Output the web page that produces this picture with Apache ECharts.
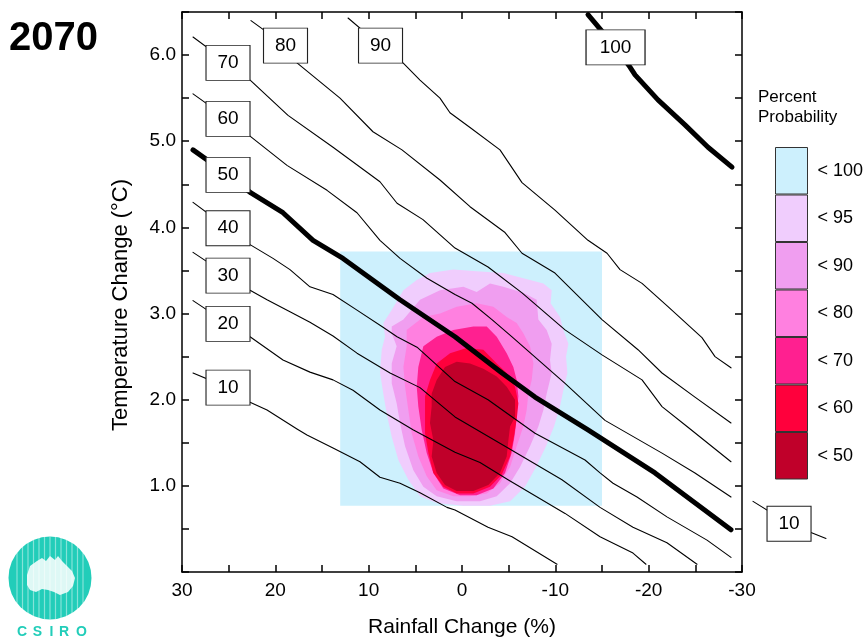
<!DOCTYPE html>
<html>
<head>
<meta charset="utf-8">
<script src="https://cdn.jsdelivr.net/npm/echarts@6/dist/echarts.min.js"></script>
<style>html,body{margin:0;padding:0;background:#fff}#c{width:867px;height:641px}</style>
</head>
<body>
<div id="c"></div>
<script>
// ---------- data (x = rainfall change %, y = temperature change °C) ----------
const probLabels = ['< 100', '< 95', '< 90', '< 80', '< 70', '< 60', '< 50'];
const probColors = ['#cdf0fd', '#f0cdfd', '#f09ef0', '#ff80e0', '#ff2090', '#ff003c', '#c0002a'];

const rectX = [13.05, -15];
const rectY = [0.77, 3.72];

const prob95 = [[6.28,3.27],[4.85,3.39],[3.43,3.47],[0.93,3.51],[-1.57,3.49],[-4.43,3.47],[-6.57,3.41],[-8.72,3.35],[-9.61,3.27],[-9.5,3.12],[-10.5,2.96],[-10.86,2.81],[-11.4,2.65],[-11.15,2.5],[-11.29,2.31],[-10.86,2.11],[-10.5,1.92],[-9.86,1.69],[-9.0,1.46],[-7.93,1.22],[-6.75,0.99],[-5.15,0.82],[-3.0,0.77],[-0.15,0.77],[2.71,0.8],[4.5,0.88],[5.75,1.07],[6.82,1.3],[7.53,1.57],[8.07,1.84],[8.43,2.07],[8.78,2.31],[8.6,2.58],[8.25,2.73],[8.43,2.89],[7.53,3.04]];
const prob90 = [[7.53,2.85],[6.28,2.93],[4.5,3.16],[2.35,3.27],[-0.15,3.31],[-1.57,3.25],[-3.0,3.35],[-4.43,3.31],[-6.57,3.24],[-8.0,3.16],[-8.18,2.93],[-9.07,2.81],[-9.61,2.65],[-9.43,2.46],[-9.61,2.31],[-9.07,2.07],[-8.72,1.88],[-8.18,1.69],[-7.29,1.46],[-6.22,1.22],[-5.15,1.03],[-3.72,0.88],[-1.93,0.82],[0.57,0.82],[2.71,0.88],[4.14,0.99],[5.21,1.18],[6.1,1.46],[6.64,1.73],[7.0,1.96],[7.53,2.19],[7.53,2.42],[7.0,2.62],[7.53,2.77]];
const prob80 = [[5.93,2.81],[4.14,2.96],[2.35,3.0],[0.57,3.08],[-1.57,3.12],[-3.36,3.08],[-4.79,2.96],[-5.86,2.89],[-6.57,2.77],[-7.29,2.62],[-7.65,2.42],[-7.47,2.23],[-7.11,2.07],[-6.93,1.88],[-6.57,1.69],[-5.86,1.46],[-5.15,1.22],[-4.07,1.03],[-2.65,0.91],[-0.86,0.88],[0.93,0.88],[2.71,0.95],[3.78,1.11],[4.68,1.34],[5.39,1.61],[5.75,1.88],[6.1,2.15],[6.28,2.38],[5.93,2.62]];
const prob70 = [[4.14,2.62],[2.71,2.73],[0.93,2.81],[-1.22,2.85],[-2.65,2.85],[-3.72,2.73],[-4.79,2.54],[-5.5,2.38],[-5.86,2.23],[-6.04,2.04],[-5.86,1.84],[-5.68,1.61],[-5.32,1.38],[-4.61,1.15],[-3.36,0.97],[-1.57,0.89],[0.21,0.89],[2.0,0.97],[3.07,1.15],[3.78,1.38],[4.32,1.65],[4.68,1.92],[4.85,2.15],[4.68,2.38]];
const prob60 = [[2.71,2.42],[1.28,2.54],[-0.5,2.6],[-2.29,2.58],[-3.72,2.42],[-4.79,2.31],[-5.68,2.15],[-6.04,1.96],[-5.86,1.77],[-5.5,1.53],[-5.15,1.34],[-4.25,1.13],[-3.0,0.99],[-1.22,0.91],[0.57,0.91],[2.0,0.99],[3.07,1.15],[3.6,1.38],[3.96,1.61],[3.96,1.84],[3.96,2.04],[3.43,2.23]];
const prob50 = [[1.82,2.38],[0.57,2.44],[-0.86,2.42],[-2.29,2.36],[-3.72,2.27],[-4.79,2.15],[-5.68,2.0],[-5.68,1.8],[-5.15,1.69],[-4.97,1.53],[-4.79,1.34],[-4.07,1.15],[-2.82,1.01],[-1.22,0.94],[0.57,0.94],[1.82,1.01],[2.71,1.15],[3.25,1.34],[3.07,1.53],[3.43,1.73],[3.25,1.92],[3.25,2.07],[2.71,2.23]];

// contour lines: first point = leader start, second point = label box centre
const contourNames = ['10','20','30','40','50','60','70','80','90','100','10'];
const line10 = [[28.82,2.31],[25.07,2.14],[22.71,1.97],[20.89,1.88],[17.68,1.66],[16.61,1.59],[13.82,1.44],[10.93,1.28],[8.79,1.10],[6.64,1.03],[4.5,0.92],[1.61,0.75],[0.75,0.72],[-2.79,0.52],[-5.36,0.41],[-10.18,0.09]];
const line20 = [[28.82,3.15],[25.07,2.88],[22.71,2.73],[19.18,2.46],[16.29,2.32],[13.82,2.23],[11.68,2.11],[8.79,1.88],[5.25,1.65],[0.75,1.39],[-1.93,1.27],[-4.93,1.07],[-11.04,0.68],[-14.79,0.41],[-18.32,0.22],[-19.71,0.09]];
const line30 = [[28.82,3.71],[25.07,3.44],[22.71,3.27],[20.89,3.16],[18.43,3.02],[16.29,2.90],[13.82,2.74],[11.25,2.54],[7.71,2.31],[4.5,2.14],[0.75,1.80],[-4.93,1.44],[-10.71,1.07],[-14.79,0.75],[-18.32,0.52],[-21.96,0.34],[-25.18,0.09]];
const line40 = [[28.82,4.29],[25.07,3.99],[22.71,3.80],[20.25,3.64],[18.43,3.51],[16.29,3.31],[13.82,3.22],[11.25,3.04],[8.46,2.84],[6.96,2.73],[4.82,2.61],[0.75,2.21],[-2.79,2.0],[-7.82,1.61],[-13.18,1.30],[-14.79,1.15],[-16.18,1.03],[-18.75,0.87],[-21.96,0.64],[-26.25,0.37],[-28.82,0.17]];
const line50 = [[28.82,4.90],[25.07,4.61],[22.61,4.40],[19.18,4.17],[15.96,3.85],[12.75,3.64],[6.64,3.16],[0.75,2.73],[-4.29,2.31],[-7.82,2.03],[-13.5,1.65],[-20.68,1.15],[-28.82,0.49]];
const line60 = [[28.82,5.55],[25.07,5.26],[22.61,5.05],[18.75,4.72],[14.46,4.43],[11.25,4.17],[8.79,3.85],[6.64,3.64],[3.75,3.41],[0.75,3.22],[-1.07,3.12],[-3.21,2.93],[-5.36,2.73],[-11.04,2.19],[-15.32,1.76],[-21.43,1.38],[-24.96,1.15],[-28.82,0.87]];
const line70 = [[28.82,6.21],[25.07,5.91],[22.61,5.70],[18.64,5.30],[13.82,4.93],[8.79,4.53],[6.96,4.28],[4.18,4.09],[0.75,3.76],[-2.79,3.54],[-6.43,3.24],[-11.04,2.81],[-15,2.52],[-19.29,2.23],[-21.43,1.92],[-24.21,1.68],[-28.82,1.28]];
const line80 = [[22.61,6.40],[18.91,6.11],[17.68,5.91],[13.07,5.50],[9.54,5.11],[6.43,4.90],[2.36,4.55],[-0.86,4.24],[-4.61,3.94],[-6.43,3.70],[-9.96,3.47],[-15,2.93],[-18.86,2.58],[-21.43,2.31],[-24.96,2.03],[-28.82,1.73]];
const line90 = [[12.21,6.43],[8.73,6.11],[6.32,5.91],[4.5,5.71],[2.36,5.50],[1.29,5.33],[-0.86,5.16],[-4.07,4.90],[-6.43,4.52],[-9.96,4.20],[-13.5,3.85],[-15.54,3.70],[-16.93,3.51],[-19.29,3.35],[-22.07,3.08],[-25.71,2.72],[-27.11,2.50],[-28.82,2.37]];
const line100 = [[-13.5,6.47],[-16.45,6.09],[-18,5.86],[-18.54,5.77],[-21,5.48],[-23.89,5.19],[-26.36,4.93],[-28.93,4.70]];
const line10b = [[-31.18,0.82],[-35.04,0.56],[-39,0.39]];

const xTicks = [30, 20, 10, 0, -10, -20, -30];
const yTicks = [1, 2, 3, 4, 5, 6];

// ---------- chart ----------
const FONT = '"Liberation Sans", Arial, sans-serif';
const chart = echarts.init(document.getElementById('c'), null, {renderer: 'canvas'});

function polySeries(name, pts, color) {
  return {
    type: 'custom', name: name, coordinateSystem: 'cartesian2d', xAxisIndex: 0, yAxisIndex: 0,
    data: pts, encode: {x: 0, y: 1}, silent: true, itemStyle: {color: color},
    renderItem: function (params, api) {
      if (params.dataIndex !== 0) return null;
      return {type: 'polygon', shape: {points: pts.map(p => api.coord(p))}, style: {fill: color}};
    }
  };
}
function contourSeries(label, pts, thick, axisIdx) {
  const w = label.length > 2 ? 59 : 44;
  return {
    type: 'line', name: 'contour ' + label, data: pts, xAxisIndex: axisIdx, yAxisIndex: axisIdx,
    symbol: 'none', smooth: false, clip: false, silent: true, z: 5,
    lineStyle: {color: '#000', width: thick ? 5 : 1.1, cap: 'round', join: 'round'},
    markPoint: {
      symbol: 'rect', symbolSize: [w, 35], silent: true, animation: false, z: 20,
      itemStyle: {color: '#fff', borderColor: '#222', borderWidth: 1},
      label: {show: true, position: 'inside', formatter: '{b}', color: '#000', fontSize: 19, fontFamily: FONT},
      data: [{name: label, coord: pts[1]}]
    }
  };
}

const rectPts = [[rectX[0], rectY[0]], [rectX[1], rectY[0]], [rectX[1], rectY[1]], [rectX[0], rectY[1]]];
const polys = [rectPts, prob95, prob90, prob80, prob70, prob60, prob50];
const lines = [line10, line20, line30, line40, line50, line60, line70, line80, line90, line100, line10b];

const series = [];
polys.forEach((p, i) => series.push(polySeries(probLabels[i], p, probColors[i])));
lines.forEach((l, i) => series.push(contourSeries(contourNames[i], l,
  contourNames[i] === '50' || contourNames[i] === '100', l === line10b ? 2 : 0)));

const axisLine = {onZero: false, lineStyle: {color: '#000', width: 1.5}};
const axisTick = {inside: true, length: 7, lineStyle: {color: '#000', width: 1.5}};

// logo
const logoCx = 50, logoCy = 578, logoR = 41.5;
const logo = [{type: 'circle', shape: {cx: logoCx, cy: logoCy, r: logoR}, style: {fill: '#22cdb9'}, silent: true}];
for (let k = -6; k <= 6; k++) {
  const dx = k * 5.5;
  const h = Math.sqrt(logoR * logoR - dx * dx);
  logo.push({type: 'line', shape: {x1: logoCx + dx, y1: logoCy - h, x2: logoCx + dx, y2: logoCy + h}, style: {stroke: 'rgba(255,255,255,0.45)', lineWidth: 1.2}, silent: true});
}
logo.push({type: 'polygon', shape: {points: [[27,575],[30,566],[37,561],[42,558],[46,561],[50,556],[55,560],[58,556],[62,561],[67,566],[72,571],[75,578],[73,586],[68,592],[60,595],[54,592],[48,590],[42,589],[36,592],[30,590],[27,585]]}, style: {fill: 'rgba(255,255,255,0.85)'}, silent: true});
['C','S','I','R','O'].forEach((ch, i) => {
  logo.push({type: 'text', x: [22, 37.5, 51.5, 64, 81.5][i], y: 632, style: {text: ch, font: 'bold 14px ' + FONT, fill: '#22cdb9', align: 'center', verticalAlign: 'middle'}, silent: true});
});

const hiddenAxis = {show: false, axisLine: {show: false}, axisTick: {show: false}, axisLabel: {show: false}, splitLine: {show: false}};

const option = {
  animation: false,
  backgroundColor: '#fff',
  title: [
    {text: '2070', left: 9, top: 19, padding: 0, textStyle: {fontSize: 40, fontWeight: 'bold', color: '#000', fontFamily: FONT}},
    {text: 'Percent\nProbability', left: 758, top: 87, padding: 0, textStyle: {fontSize: 17, fontWeight: 'normal', color: '#000', lineHeight: 20, fontFamily: FONT}}
  ],
  grid: [
    {left: 182, right: 125, top: 12, bottom: 69, containLabel: false, outerBoundsMode: 'none'},
    // same scale as the main plot, extended to the right for the outside "10" label
    {left: 182, right: 867 - 182 - 560 * 70 / 60, top: 12, bottom: 69, containLabel: false, outerBoundsMode: 'none'}
  ],
  legend: {
    orient: 'vertical', left: 775, top: 147, padding: 0, itemWidth: 32, itemHeight: 46.5, itemGap: 0, icon: 'rect',
    selectedMode: false, data: probLabels,
    itemStyle: {borderColor: '#333', borderWidth: 1},
    textStyle: {fontSize: 18, color: '#000', fontFamily: FONT, padding: [0, 0, 0, 5]}
  },
  xAxis: [
    {type: 'value', min: -30, max: 30, interval: 5, inverse: true, position: 'bottom',
     axisLine: axisLine, axisTick: axisTick, splitLine: {show: false},
     axisLabel: {formatter: v => xTicks.indexOf(v) >= 0 ? String(v) : '', color: '#000', fontSize: 19, margin: 9, fontFamily: FONT},
     name: 'Rainfall Change (%)', nameLocation: 'middle', nameGap: 45,
     nameTextStyle: {fontSize: 21, color: '#000', fontFamily: FONT}},
    {type: 'value', min: -30, max: 30, interval: 5, inverse: true, position: 'top',
     axisLine: axisLine, axisTick: axisTick, splitLine: {show: false}, axisLabel: {show: false}},
    Object.assign({type: 'value', gridIndex: 1, min: -40, max: 30, inverse: true}, hiddenAxis)
  ],
  yAxis: [
    {type: 'value', min: 0, max: 6.5, interval: 0.5, position: 'left',
     axisLine: axisLine, axisTick: axisTick, splitLine: {show: false},
     axisLabel: {formatter: v => yTicks.indexOf(v) >= 0 ? v.toFixed(1) : '', color: '#000', fontSize: 19, margin: 6, fontFamily: FONT}},
    {type: 'value', min: 0, max: 6.5, interval: 0.5, position: 'right',
     axisLine: axisLine, axisTick: axisTick, splitLine: {show: false}, axisLabel: {show: false}},
    Object.assign({type: 'value', gridIndex: 1, min: 0, max: 6.5}, hiddenAxis)
  ],
  graphic: [
    {type: 'text', x: 121, y: 305, rotation: Math.PI / 2, silent: true,
     style: {text: 'Temperature Change (°C)', font: '22px ' + FONT, fill: '#000', align: 'center', verticalAlign: 'middle'}},
    {type: 'group', children: logo}
  ],
  series: series
};
chart.setOption(option);
</script>
</body>
</html>
